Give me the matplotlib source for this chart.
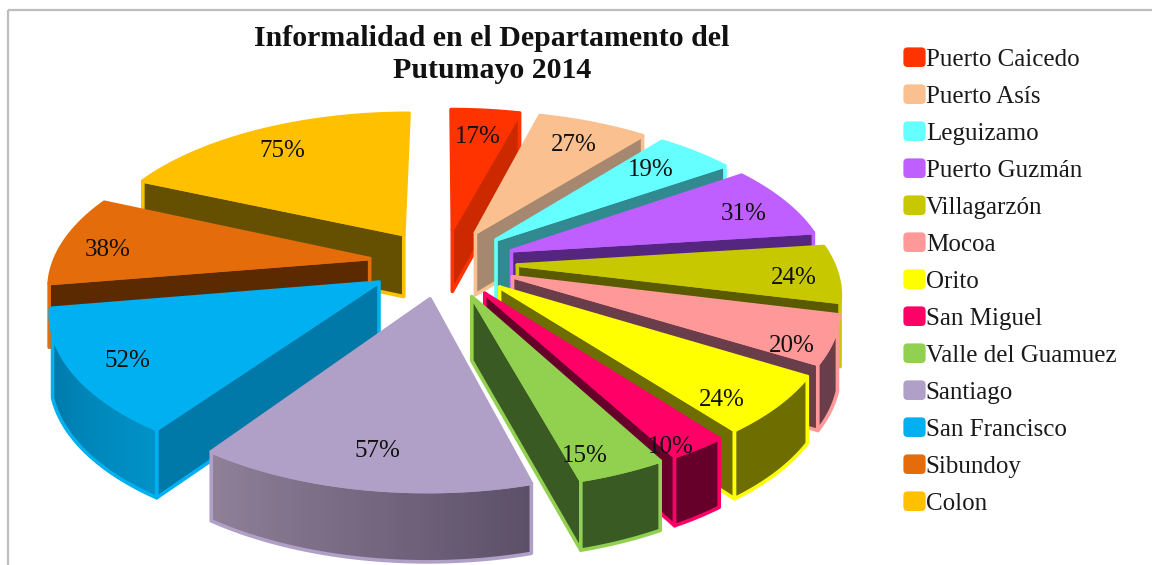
import numpy as np
import matplotlib
matplotlib.use("Agg")
import matplotlib.pyplot as plt
from matplotlib.patches import Polygon, Rectangle, FancyBboxPatch
from matplotlib.legend_handler import HandlerPatch
from matplotlib.colors import to_rgb

municipios = ["Puerto Caicedo", "Puerto Asís", "Leguizamo", "Puerto Guzmán", "Villagarzón",
              "Mocoa", "Orito", "San Miguel", "Valle del Guamuez", "Santiago",
              "San Francisco", "Sibundoy", "Colon"]
valores = [17, 27, 19, 31, 24, 20, 24, 10, 15, 57, 52, 38, 75]
colores = ["#FF3300", "#FAC090", "#66FFFF", "#BF5FFF", "#C8C800", "#FF9999", "#FFFF00",
           "#FF0066", "#92D050", "#B09FC6", "#00B0F0", "#E46C0A", "#FFC000"]
cortes = ["#CC2900", "#A68870", "#308A90", "#552680", "#5A5A00", "#6A3D4A", "#6E6E00",
          "#66002B", "#3A5A24", "#6E6080", "#0078A8", "#5C2A00", "#645000"]
lado_a = ["#CC2900", "#A68870", "#308A90", "#552680", "#5A5A00", "#6A3D4A", "#6E6E00",
          "#66002B", "#3A5A24", "#5C5068", "#0092C8", "#5C2A00", "#645000"]
lado_b = ["#CC2900", "#A68870", "#308A90", "#552680", "#5A5A00", "#6A3D4A", "#6E6E00",
          "#66002B", "#3A5A24", "#8F8098", "#0078A8", "#5C2A00", "#645000"]
titulo = "Informalidad en el Departamento del\nPutumayo 2014"

CX, CY, RX, RY, PERSP, DEPTH, EXPL, LABEL_R = 443, 263, 316, 149, 0.16, 63, 0.235, 1.05
# label nudges in pixels (layout only)
NUDGE_X = [-2, 1, -10, 8, 16, 21, 1, 17, -5, 1, -8, -13, -2]
NUDGE_Y = [7, 3, 3, 4, 6, 19, 19, 31, 21, 3, 6, 6, 3]

plt.rcParams["font.family"] = ["Liberation Serif", "DejaVu Serif"]
fig = plt.figure(figsize=(11.52, 5.65), dpi=100)
ax = fig.add_axes([0, 0, 1, 1])
ax.set_xlim(0, 1152)
ax.set_ylim(565, 0)
ax.axis("off")
ax.add_patch(Rectangle((8, 10), 1200, 700, fc="none", ec="#BDBDBD", lw=1.6))


def proj(X, Y, Z=0.0):
    X, Y = np.asarray(X, float), np.asarray(Y, float)
    w = 1 + PERSP * Y
    return np.column_stack([CX + RX * X / w, CY - RY * Y / w + Z * DEPTH / np.sqrt(w)])


def mix(c1, c2, t):
    a, b = np.array(to_rgb(c1)), np.array(to_rgb(c2))
    return tuple(a + (b - a) * t)


frac = np.array(valores) / sum(valores) * 2 * np.pi
fin = np.cumsum(frac)
ini = fin - frac
mid = (ini + fin) / 2
orden = np.argsort(-np.cos(mid))

for i in orden:
    a, b, m, c = ini[i], fin[i], mid[i], colores[i]
    ox, oy = EXPL * np.sin(m), EXPL * np.cos(m)
    th = np.linspace(a, b, 60)
    ax_x, ax_y = ox + np.sin(th), oy + np.cos(th)
    tip_top = proj([ox], [oy])
    tip_bot = proj([ox], [oy], 1)
    arc_top = proj(ax_x, ax_y)
    arc_bot = proj(ax_x, ax_y, 1)
    z = int(np.where(orden == i)[0][0]) * 3 + 2
    edge_kw = dict(ec=c, lw=2.6, joinstyle="round", zorder=z)
    # cut faces facing the viewer
    for ang, sign, idx in ((a, -1, 0), (b, 1, -1)):
        if np.cos(ang + sign * np.pi / 2) < 0:
            poly = np.vstack([tip_top, arc_top[idx], arc_bot[idx], tip_bot])
            ax.add_patch(Polygon(poly, fc=cortes[i], **edge_kw))
    # outer wall, front part only
    vis = np.cos(th) < -0.3
    if vis.any():
        t_s, b_s = arc_top[vis], arc_bot[vis]
        n = len(t_s)
        for k in range(n - 1):
            q = np.vstack([t_s[k], t_s[k + 1], b_s[k + 1], b_s[k]])
            col = mix(lado_a[i], lado_b[i], k / max(n - 2, 1))
            ax.add_patch(Polygon(q, fc=col, ec=col, lw=1.0, antialiased=False, zorder=z))
        ax.add_patch(Polygon(np.vstack([t_s, b_s[::-1]]), fc="none", **edge_kw))
    # top face
    top = np.vstack([tip_top, arc_top])
    ax.add_patch(Polygon(top, fc=c, ec=c, lw=2.6, joinstyle="round", zorder=z + 1))

# percentage labels
for i in range(len(valores)):
    m = mid[i]
    p = proj([LABEL_R * np.sin(m)], [LABEL_R * np.cos(m)])[0]
    ax.text(p[0] + NUDGE_X[i], p[1] + NUDGE_Y[i], f"{valores[i]}%", ha="center", va="center",
            fontsize=18, color="#111111", zorder=100)

ax.text(492, 54.5, titulo, ha="center", va="center", fontsize=21.5, fontweight="bold",
        color="#111111", linespacing=1.26, zorder=100)


class RoundKey(HandlerPatch):
    def create_artists(self, legend, orig, xd, yd, w, h, fs, trans):
        p = FancyBboxPatch((-xd + 3, -yd + 3), w - 6, h - 6, boxstyle="round,pad=2,rounding_size=3",
                           fc=orig.get_facecolor(), ec="none", transform=trans)
        return [p]


handles = [Rectangle((0, 0), 1, 1, fc=c) for c in colores]
leg = ax.legend(handles, municipios, loc="upper left", bbox_to_anchor=(902 / 1152, 1 - 46 / 565),
                bbox_transform=ax.transAxes, frameon=False, fontsize=18, handlelength=1.0,
                handleheight=1.0, handletextpad=-0.05, labelspacing=0.49, borderpad=0, borderaxespad=0,
                handler_map={Rectangle: RoundKey()})
for t in leg.get_texts():
    t.set_color("#1a1a1a")
leg.set_zorder(100)

fig.savefig("out.png", dpi=100)
